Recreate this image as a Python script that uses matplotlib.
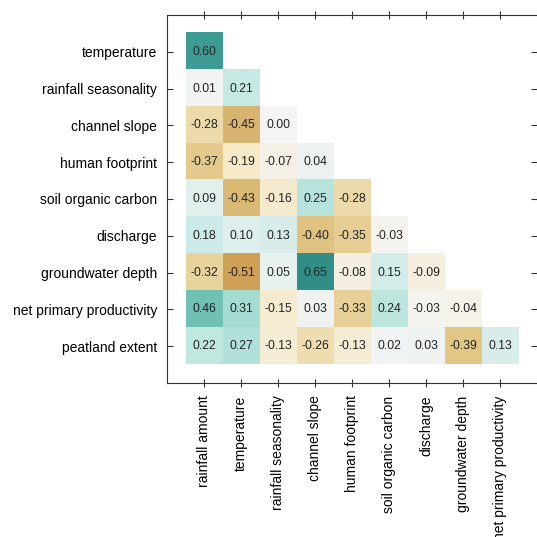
import numpy as np
import matplotlib
matplotlib.use("Agg")
import matplotlib.pyplot as plt

plt.rcParams['font.family'] = ['Liberation Sans', 'DejaVu Sans']

# variables along each axis of the lower-triangle correlation matrix
row_labels = ["temperature", "rainfall seasonality", "channel slope",
              "human footprint", "soil organic carbon", "discharge",
              "groundwater depth", "net primary productivity", "peatland extent"]
col_labels = ["rainfall amount", "temperature", "rainfall seasonality",
              "channel slope", "human footprint", "soil organic carbon",
              "discharge", "groundwater depth", "net primary productivity"]

# pairwise correlations, one list per row (lower triangle only)
r_temperature = [0.60]
r_rain_season = [0.01, 0.21]
r_channel_slope = [-0.28, -0.45, 0.00]
r_human_footprint = [-0.37, -0.19, -0.07, 0.04]
r_soil_carbon = [0.09, -0.43, -0.16, 0.25, -0.28]
r_discharge = [0.18, 0.10, 0.13, -0.40, -0.35, -0.03]
r_groundwater = [-0.32, -0.51, 0.05, 0.65, -0.08, 0.15, -0.09]
r_npp = [0.46, 0.31, -0.15, 0.03, -0.33, 0.24, -0.03, -0.04]
r_peatland = [0.22, 0.27, -0.13, -0.26, -0.13, 0.02, 0.03, -0.39, 0.13]

rows = [r_temperature, r_rain_season, r_channel_slope, r_human_footprint,
        r_soil_carbon, r_discharge, r_groundwater, r_npp, r_peatland]

n = len(row_labels)
corr = np.full((n, n), np.nan)
for i, vals in enumerate(rows):
    corr[i, :len(vals)] = vals

fig = plt.figure(figsize=(5.37, 5.37), dpi=100)
ax = fig.add_axes([0.311, 0.287, 0.689, 0.685])

ax.imshow(np.ma.masked_invalid(corr), cmap="BrBG", vmin=-1, vmax=1,
          interpolation="nearest", aspect="auto", alpha=0.96)

for i, vals in enumerate(rows):
    for j, v in enumerate(vals):
        ax.text(j, i, f"{v:.2f}", ha="center", va="center",
                fontsize=8.8, color="#222222")

ax.set_xlim(-1, 9)
ax.set_ylim(9, -1)
ax.set_xticks(range(n))
ax.set_xticklabels(col_labels, rotation=90, fontsize=10)
ax.set_yticks(range(n))
ax.set_yticklabels(row_labels, fontsize=10)
ax.tick_params(direction="in", length=4, width=0.8, color="#333333",
               top=True, right=True, pad=7)
ax.tick_params(axis="x", direction="inout", length=6, pad=6)
ax.spines["right"].set_visible(False)
for sp in ax.spines.values():
    sp.set_linewidth(0.8)
    sp.set_color("#333333")

fig.savefig("out.png", dpi=100)
